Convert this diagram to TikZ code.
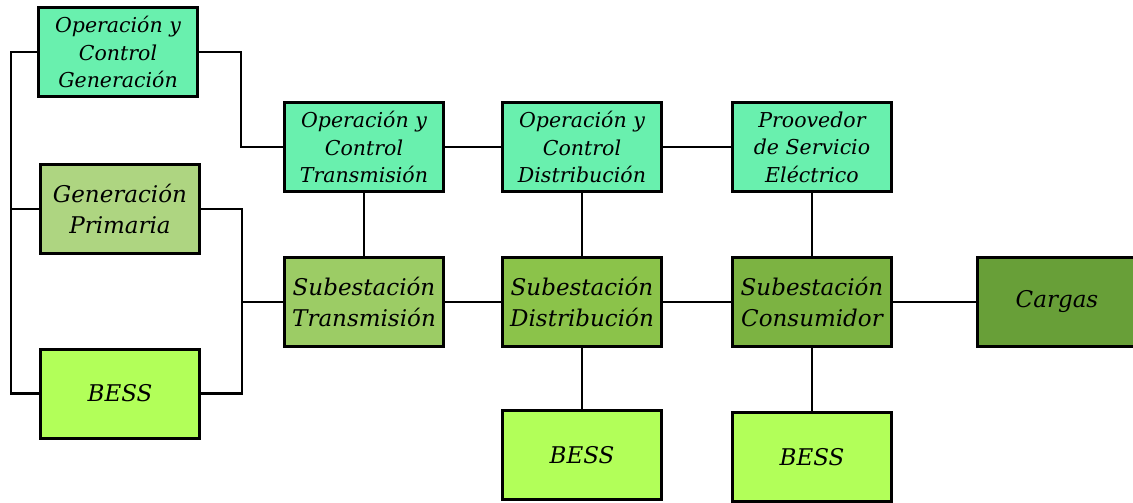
\documentclass[tikz,border=0pt]{standalone}
\usepackage{fontspec}
\setmainfont{DejaVu Serif}
\usetikzlibrary{calc}
\definecolor{mint}{HTML}{69F0AE}
\definecolor{lgA}{HTML}{B2FF59}
\definecolor{lg3}{HTML}{AED581}
\definecolor{lg4}{HTML}{9CCC65}
\definecolor{lg5}{HTML}{8BC34A}
\definecolor{lg6}{HTML}{7CB342}
\definecolor{lg7}{HTML}{689F38}
\tikzset{
  blk/.style={draw=black, line width=3pt, rectangle, inner sep=0pt,
    minimum width=159pt, minimum height=89pt, align=center,
    font=\fontsize{20.5}{27.5}\selectfont\itshape},
  big/.style={font=\fontsize{23}{31}\selectfont\itshape},
  wire/.style={draw=black, line width=2.8pt}
}
\begin{document}
\begin{tikzpicture}[x=1pt,y=-1pt]
\useasboundingbox (0,0) rectangle (1133,503);
\node[blk, fill=mint] (ocg) at (118,52) {Operación y\\Control\\Generación};
\node[blk, big, fill=lg3] (gp) at (120,209) {Generación\\Primaria};
\node[blk, big, fill=lgA] (bess1) at (120,393.5) {BESS};
\node[blk, fill=mint] (oct) at (364,147) {Operación y\\Control\\Transmisión};
\node[blk, fill=mint] (ocd) at (582,147) {Operación y\\Control\\Distribución};
\node[blk, fill=mint] (prov) at (812,147) {Proovedor\\de Servicio\\Eléctrico};
\node[blk, big, fill=lg4] (subt) at (364,302) {Subestación\\Transmisión};
\node[blk, big, fill=lg5] (subd) at (582,302) {Subestación\\Distribución};
\node[blk, big, fill=lg6] (subc) at (812,302) {Subestación\\Consumidor};
\node[blk, big, fill=lg7] (carg) at (1057,302) {Cargas};
\node[blk, big, fill=lgA] (bess2) at (582,455) {BESS};
\node[blk, big, fill=lgA] (bess3) at (812,457) {BESS};
\coordinate (busL) at (11,0);
\coordinate (busA) at (241,0);
\coordinate (busB) at (242,0);
% left bus
\draw[wire] (ocg.west) -- (ocg.west -| busL) |- (bess1.west);
\draw[wire] (gp.west) -- (gp.west -| busL);
% control generation to control transmission
\draw[wire] (ocg.east) -- (ocg.east -| busA) |- (oct.west);
% generation + bess to substation transmission
\draw[wire] (gp.east) -- (gp.east -| busB) |- (bess1.east);
\draw[wire] (subt.west) -- (subt.west -| busB);
% horizontals
\draw[wire] (oct.east) -- (ocd.west);
\draw[wire] (ocd.east) -- (prov.west);
\draw[wire] (subt.east) -- (subd.west);
\draw[wire] (subd.east) -- (subc.west);
\draw[wire] (subc.east) -- (carg.west);
% verticals
\draw[wire] (oct.south) -- (subt.north);
\draw[wire] (ocd.south) -- (subd.north);
\draw[wire] (prov.south) -- (subc.north);
\draw[wire] (subd.south) -- (bess2.north);
\draw[wire] (subc.south) -- (bess3.north);
\end{tikzpicture}
\end{document}
